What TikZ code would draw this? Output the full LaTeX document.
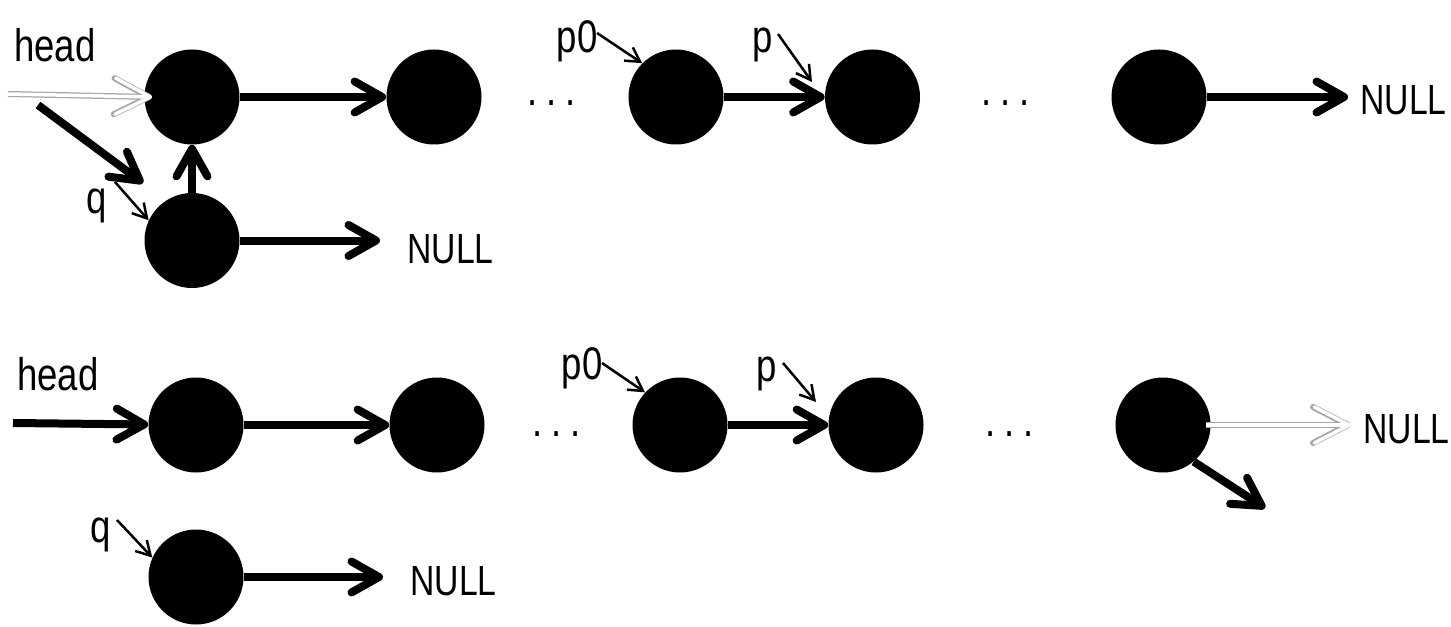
\documentclass[tikz,border=0pt]{standalone}
\usepackage{fontspec}
\setmainfont[FakeStretch=0.8]{Liberation Sans}
\usetikzlibrary{arrows.meta}

\newcommand{\gap}{.\kern5pt.\kern5pt.}

\begin{document}
\begin{tikzpicture}[
        dot/.style={circle, fill=black, minimum size=1.9cm, inner sep=0pt},
        lbl/.style={inner sep=0pt, anchor=base, font=\fontsize{26}{30}\selectfont},
        nul/.style={inner sep=0pt, anchor=base west, font=\fontsize{24}{28}\selectfont},
        barb/.tip={Straight Barb[length=0.55cm, width=0.62cm, round]},
        wbarb/.tip={Straight Barb[length=0.7cm, width=0.72cm, round]},
        link/.style={line width=0.16cm, -barb},
        ptr/.style={line width=0.05cm, -{Straight Barb[length=0.28cm, width=0.32cm]}},
        ghost/.style={draw=white, line width=0.07cm, -wbarb,
            preaction={draw=gray!70, line width=0.12cm, -wbarb}}
    ]
        \useasboundingbox (0, 0) rectangle (29.02, 12.52);

        % q put in front of the first node
        \node[dot] (t1) at (3.84, 10.58) {};
        \node[dot] (t2) at (8.68, 10.58) {};
        \node[dot] (t3) at (13.52, 10.58) {};
        \node[dot] (t4) at (17.45, 10.58) {};
        \node[dot] (t5) at (23.18, 10.58) {};
        \node[dot] (tq) at (3.84, 7.71) {};

        \node[lbl] (thead) at (1.1, 11.28) {head};
        \node[lbl] (tqlab) at (1.94, 8.24) {q};
        \node[lbl] (tp0) at (11.54, 11.46) {p0};
        \node[lbl] (tp) at (15.26, 11.46) {p};
        \node[lbl] (tdots1) at (11.04, 10.4) {\gap};
        \node[lbl] (tdots2) at (20.12, 10.4) {\gap};
        \node[nul] (tnull) at (27.2, 10.22) {NULL};
        \node[nul] (tqnull) at (8.14, 7.26) {NULL};

        \coordinate (thead0) at (0.16, 10.64);
        \coordinate (tqa) at (0.76, 10.42);
        \coordinate (tqb) at (2.86, 8.86);
        \coordinate (tqp) at (2.3, 8.88);
        \coordinate (tp0a) at (11.94, 11.86);
        \coordinate (tpa) at (15.56, 11.84);
        \coordinate (tpb) at (16.24, 10.88);

        \draw[ghost] (thead0) -- ([xshift=0.16cm]t1.west);
        \draw[link] (tqa) -- (tqb);
        \draw[ptr] (tqp) -- (tq.155);
        \draw[link] (tq) -- (t1);
        \draw[link] (t1) -- (t2);
        \draw[link] (t3) -- (t4);
        \draw[ptr] (tp0a) -- (t3.135);
        \draw[ptr] (tpa) -- (tpb);
        \draw[link, shorten >=0.24cm] (t5) -- (t5 -| tnull.west);
        \draw[link, shorten >=0.54cm] (tq) -- (tq -| tqnull.west);

        % p0 and p move on, the last node loses its NULL
        \node[dot] (b1) at (3.92, 4.02) {};
        \node[dot] (b2) at (8.74, 4.02) {};
        \node[dot] (b3) at (13.6, 4.02) {};
        \node[dot] (b4) at (17.52, 4.02) {};
        \node[dot] (b5) at (23.26, 4.02) {};
        \node[dot] (bq) at (3.92, 0.98) {};

        \node[lbl] (bhead) at (1.16, 4.72) {head};
        \node[lbl] (bqlab) at (2.02, 1.68) {q};
        \node[lbl] (bp0) at (11.64, 4.94) {p0};
        \node[lbl] (bp) at (15.34, 4.9) {p};
        \node[lbl] (bdots1) at (11.14, 3.8) {\gap};
        \node[lbl] (bdots2) at (20.2, 3.8) {\gap};
        \node[nul] (bnull) at (27.26, 3.66) {NULL};
        \node[nul] (bqnull) at (8.2, 0.62) {NULL};

        \coordinate (bhead0) at (0.26, 4.06);
        \coordinate (bqp) at (2.34, 2.12);
        \coordinate (bp0a) at (12.04, 5.26);
        \coordinate (bpa) at (15.66, 5.26);
        \coordinate (bpb) at (16.32, 4.48);
        \coordinate (b5out) at (25.3, 2.36);

        \draw[link] (bhead0) -- (b1);
        \draw[ptr] (bqp) -- (bq.156);
        \draw[link] (b1) -- (b2);
        \draw[link] (b3) -- (b4);
        \draw[ptr] (bp0a) -- (b3.137);
        \draw[ptr] (bpa) -- (bpb);
        \draw[ghost, shorten >=0.24cm] ([xshift=-0.1cm]b5.east) -- (b5 -| bnull.west);
        \draw[link] (b5.-50) -- (b5out);
        \draw[link, shorten >=0.54cm] (bq) -- (bq -| bqnull.west);
    \end{tikzpicture}
\end{document}
